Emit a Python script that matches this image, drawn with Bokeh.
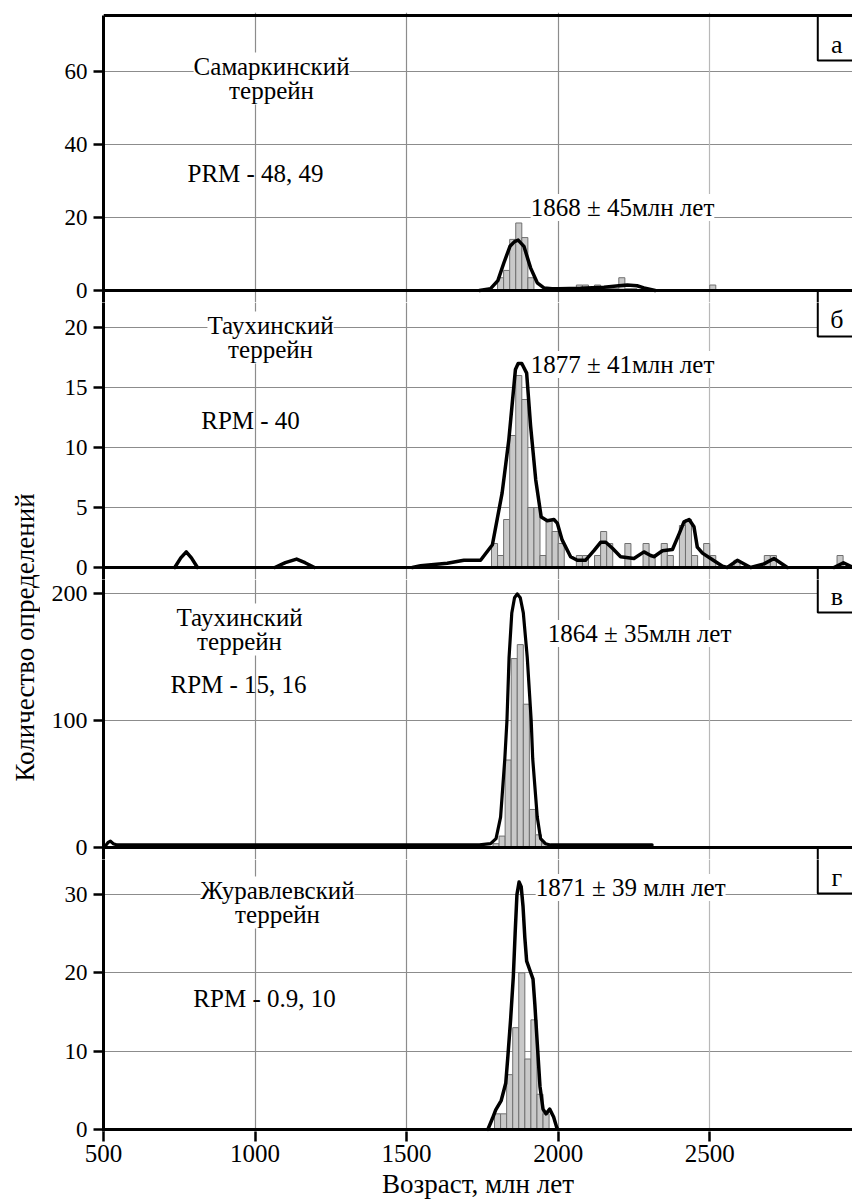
import math
from bokeh.plotting import figure
from bokeh.models import Range1d, FixedTicker, Span, Label, Grid
from bokeh.layouts import row, column
from bokeh.embed import file_html
from bokeh.resources import INLINE

NAN = float("nan")

# ---------------- data ----------------
X_TICKS = [500, 1000, 1500, 2000, 2500]
BIN_WIDTH = 20

# а — Самаркинский террейн
a_bin_left = [1800, 1820, 1840, 1860, 1880, 1900, 2060, 2080, 2100, 2120, 2140,
              2160, 2180, 2200, 2220, 2240, 2500]
a_counts = [3.5, 5.5, 14, 18.5, 14.5, 3.5, 1.5, 1.5, 0.5, 1.5, 0.5,
            0.5, 0.5, 3.5, 0.5, 0.5, 1.5]
a_kde_age = [1740, 1777, 1801, 1821, 1841, 1856, 1868, 1887, 1909, 1931, 1953,
             1980, 2000, 2074, 2151, 2200, 2228, 2260, 2283, 2320]
a_kde_val = [0, 0.5, 2.7, 7.6, 12.1, 13.4, 13.8, 12.1, 6.2, 2.1, 0.7,
             0.5, 0.5, 0.6, 0.9, 1.3, 1.5, 1.3, 0.7, 0]
a_yticks = [0, 20, 40, 60]

# б — Таухинский террейн (RPM - 40)
b_bin_left = [1780, 1800, 1820, 1840, 1860, 1880, 1900, 1920, 1940, 1960, 1980, 2000,
              2060, 2080, 2120, 2140, 2160, 2220, 2280, 2300, 2340, 2360, 2400, 2420,
              2440, 2480, 2500, 2580, 2680, 2700, 2920]
b_counts = [2, 1, 4, 11, 16, 14, 5, 5, 1, 4, 3, 2,
            1, 1, 1, 3, 2, 2, 2, 1, 2, 1, 3.5, 4,
            1, 2, 1, 0.6, 1, 1, 1]
b_kde_age = [735, 755, 773, 790, 810, NAN,
             1065, 1100, 1137, 1165, 1196, NAN,
             1519, 1546, 1590, 1634, 1689, 1744, 1783, 1815, 1837, 1859,
             1868, 1880, 1896, 1909, 1926, 1944, 1964, 1986, 1997, 2013,
             2041, 2063, 2090, 2118, 2140, 2157, 2179, 2206, 2250, 2283,
             2305, 2316, 2344, 2377, 2399, 2415, 2432, 2448, 2459, 2476,
             2503, 2542, 2558, 2591, 2635, 2679, 2712, 2756, NAN,
             2910, 2941, 2972]
b_kde_val = [0, 0.8, 1.3, 0.8, 0, NAN,
             0, 0.4, 0.7, 0.4, 0, NAN,
             0, 0.15, 0.25, 0.35, 0.6, 0.6, 1.9, 6.2, 10.6, 16.5,
             17.0, 17.0, 16.2, 11.8, 7.3, 4.2, 3.9, 4.0, 3.7, 2.3,
             0.9, 0.6, 0.6, 1.4, 2.1, 2.1, 1.6, 0.9, 0.75, 1.3,
             1.0, 0.9, 1.4, 1.5, 2.8, 3.8, 4.0, 3.4, 1.7, 1.2,
             0.75, 0.1, 0, 0.6, 0, 0.3, 0.75, 0, NAN,
             0, 0.4, 0]
b_yticks = [0, 5, 10, 15, 20]

# в — Таухинский террейн (RPM - 15, 16)
c_bin_left = [1785, 1805, 1825, 1845, 1865, 1885, 1905, 1925, 1945]
c_counts = [3, 9, 69, 149, 160, 113, 30, 10, 3]
c_kde_age = [507, 515, 523, 532, 545, 1740, 1777, 1795, 1810, 1824, 1831, 1838,
             1847, 1856, 1865, 1875, 1885, 1898, 1911, 1916, 1931, 1942, 1958,
             1975, 2310]
c_kde_val = [1.5, 4, 5, 3, 2, 2, 3, 7, 24, 70, 100, 150,
             185, 197, 200, 197, 185, 150, 100, 70, 24, 7, 3,
             2, 2]
c_yticks = [0, 100, 200]

# г — Журавлевский террейн
d_bin_left = [1790, 1810, 1830, 1850, 1870, 1890, 1910, 1930, 1950]
d_counts = [2, 2, 7, 13, 20, 9, 14, 4.5, 2]
d_kde_age = [1768, 1783, 1794, 1812, 1827, 1834, 1843, 1852, 1858, 1864, 1871,
             1878, 1884, 1890, 1896, 1907, 1917, 1923, 1931, 1940, 1950, 1960,
             1972, 1985, 1995, 1999]
d_kde_val = [0, 1.4, 2.5, 3.7, 5.9, 9.3, 14.0, 19.5, 25.0, 30.0, 31.6,
             31.0, 28.5, 24.5, 21.5, 20.3, 19.2, 16.0, 11.0, 5.5, 2.6, 2.0,
             2.6, 1.6, 0.3, 0]
d_yticks = [0, 10, 20, 30]

panel_letters = ["а", "б", "в", "г"]
terrane_names = ["Самаркинский", "Таухинский", "Таухинский", "Журавлевский"]
terrane_word = "террейн"
sample_labels = ["PRM - 48, 49", "RPM - 40", "RPM - 15, 16", "RPM - 0.9, 10"]
age_labels = ["1868 ± 45млн лет", "1877 ± 41млн лет", "1864 ± 35млн лет",
              "1871 ± 39 млн лет"]
x_title = "Возраст, млн лет"
y_title = "Количество определений"

# ---------------- layout / style ----------------
FONT = "Liberation Serif"
X_START, X_END = 500, 2971
FRAME_LEFT_PX = 103
PX_PER_MA = 0.303
LEFT_W = 40
PANEL_W = 852 - LEFT_W
GRID_DARK = "#8c8c8c"
GRID_LIGHT = "#b8b8b8"


def x_at(px):
    return X_START + (px - FRAME_LEFT_PX) / PX_PER_MA


geoms = [
    dict(fig_top=0, frame_top=12, frame_bottom=302, fig_bottom=302, zero=290, ppu=3.65,
         name=(271, 78), rpm=(255, 173), age=(530, 207),
         letter=(836, 44), box=(15, 60), tick_font="23px"),
    dict(fig_top=302, frame_top=302, frame_bottom=579, fig_bottom=579, zero=567, ppu=12.0,
         name=(270, 337), rpm=(250, 420), age=(530, 364),
         letter=(836, 319), box=(200, 336), tick_font="23px"),
    dict(fig_top=579, frame_top=579, frame_bottom=859, fig_bottom=859, zero=847, ppu=1.268,
         name=(239, 629), rpm=(238, 684), age=(547, 633),
         letter=(836, 596), box=(400, 612), tick_font="24px"),
    dict(fig_top=859, frame_top=859, frame_bottom=1131, fig_bottom=1204, zero=1129, ppu=7.833,
         name=(277, 902), rpm=(264, 998), age=(535, 887),
         letter=(836, 877), box=(700, 893), tick_font="23px"),
]

series = [
    (a_bin_left, a_counts, a_kde_age, a_kde_val, a_yticks),
    (b_bin_left, b_counts, b_kde_age, b_kde_val, b_yticks),
    (c_bin_left, c_counts, c_kde_age, c_kde_val, c_yticks),
    (d_bin_left, d_counts, d_kde_age, d_kde_val, d_yticks),
]


def make_panel(i):
    g = geoms[i]
    bins, counts, kde_age, kde_val, yticks = series[i]
    last = i == 3

    def y_at(px):
        return (g["zero"] - px) / g["ppu"]

    kw = dict(
        width=PANEL_W, height=g["fig_bottom"] - g["fig_top"],
        x_range=Range1d(X_START, X_END),
        y_range=Range1d(y_at(g["frame_bottom"]), y_at(g["frame_top"])),
        toolbar_location=None, output_backend="svg",
        min_border_left=FRAME_LEFT_PX - LEFT_W, min_border_right=0,
        min_border_top=g["frame_top"] - g["fig_top"],
        min_border_bottom=g["fig_bottom"] - g["frame_bottom"],
        outline_line_color=None,
        background_fill_color="white", border_fill_color="white",
    )
    if not last:
        kw["x_axis_type"] = None
    p = figure(**kw)

    # grids
    p.ygrid.ticker = FixedTicker(ticks=yticks)
    p.ygrid.grid_line_color = GRID_DARK
    p.ygrid.grid_line_width = 1.2
    if last:
        p.xgrid.visible = False
    p.add_layout(Grid(dimension=0, ticker=FixedTicker(ticks=[1000, 1500, 2000]),
                      grid_line_color=GRID_DARK, grid_line_width=1.2))
    p.add_layout(Grid(dimension=0, ticker=FixedTicker(ticks=[2500]),
                      grid_line_color=GRID_LIGHT, grid_line_width=1.2))

    # y axis
    ax = p.yaxis[0]
    ax.ticker = FixedTicker(ticks=yticks)
    ax.axis_line_width = 3
    ax.axis_line_color = "black"
    ax.major_tick_line_width = 2.5
    ax.major_tick_out = 10
    ax.major_tick_in = 0
    ax.minor_tick_line_color = None
    ax.major_label_text_font = FONT
    ax.major_label_text_font_size = g["tick_font"]
    ax.major_label_text_color = "black"
    ax.major_label_standoff = 6
    if i == 0:
        ax.bounds = (y_at(g["frame_bottom"]), y_at(g["box"][0]))

    # x axis (bottom panel only)
    if last:
        xa = p.xaxis[0]
        xa.ticker = FixedTicker(ticks=X_TICKS)
        xa.axis_line_color = None
        xa.major_tick_line_width = 2.5
        xa.major_tick_out = 10
        xa.major_tick_in = 0
        xa.minor_tick_line_color = None
        xa.major_label_text_font = FONT
        xa.major_label_text_font_size = "25px"
        xa.major_label_text_color = "black"
        xa.major_label_standoff = 3
        xa.axis_label = x_title
        xa.axis_label_text_font = FONT
        xa.axis_label_text_font_size = "27px"
        xa.axis_label_text_font_style = "normal"
        xa.axis_label_text_color = "black"
        xa.axis_label_standoff = 4

    # letter box of this panel
    bl, br = x_at(817), X_END + 300
    p.quad(left=[bl], right=[br], top=[y_at(g["box"][0])], bottom=[y_at(g["box"][1])],
           fill_color="white", line_color="black", line_width=2)
    # upper part of the next panel's box (lies inside this canvas)
    if not last:
        p.quad(left=[bl], right=[br], top=[0], bottom=[y_at(g["frame_bottom"] + 200)],
               fill_color="white", line_color="black", line_width=2)

    # histogram
    p.quad(left=bins, right=[b + BIN_WIDTH for b in bins], bottom=0, top=counts,
           fill_color="#c9c9c9", line_color="#707070", line_width=1)
    # density curve
    p.line(kde_age, kde_val, line_color="black", line_width=3.5 if i != 2 else 3.2,
           line_join="round", line_cap="round")

    # baseline
    p.add_layout(Span(location=0, dimension="width", line_color="black", line_width=3))
    if i == 0:
        p.add_layout(Span(location=y_at(g["box"][0]), dimension="width",
                          line_color="black", line_width=3))

    # texts
    def lab(px, py, text, align="center", bg=None, size="25px", lh=1.2):
        p.add_layout(Label(x=x_at(px), y=y_at(py), text=text, text_font=FONT,
                           text_font_size=size, text_align=align, text_baseline="middle",
                           text_color="black", background_fill_color=bg,
                           text_line_height=lh))

    lab(*g["name"], terrane_names[i] + "\n" + terrane_word, bg="white", lh=0.92)
    lab(*g["rpm"], sample_labels[i])
    lab(*g["age"], age_labels[i], align="left", bg="white")
    lab(*g["letter"], panel_letters[i], size="26px")
    return p


panels = [make_panel(i) for i in range(4)]

title_fig = figure(width=LEFT_W, height=1204, x_range=Range1d(0, LEFT_W),
                   y_range=Range1d(0, 1204), x_axis_type=None, y_axis_type=None,
                   toolbar_location=None, output_backend="svg", min_border=0,
                   outline_line_color=None, background_fill_color="white",
                   border_fill_color="white")
title_fig.add_layout(Label(x=24, y=1204 - 637, text=y_title, angle=math.pi / 2,
                           text_font=FONT, text_font_size="27px", text_align="center",
                           text_baseline="middle", text_color="black"))

layout = row(title_fig, column(*panels, spacing=0), spacing=0)
open("out.html", "w").write(file_html(layout, INLINE))
